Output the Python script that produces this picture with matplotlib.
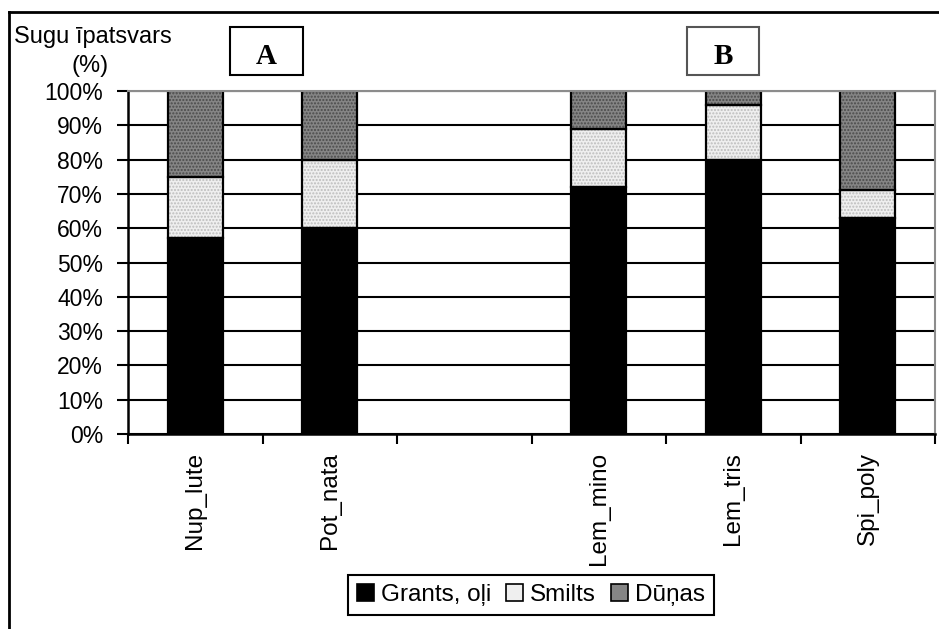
import numpy as np
import matplotlib
matplotlib.use("Agg")
import matplotlib.pyplot as plt
from matplotlib.patches import Rectangle, Patch
from matplotlib.lines import Line2D

# Species (the empty slot separates group A from group B)
categories = ["Nup_lute", "Pot_nata", "", "Lem_mino", "Lem_tris", "Spi_poly"]
# Share of each substrate type, %
grants = [57, 60, 0, 72, 80, 63]
smilts = [18, 20, 0, 17, 16, 8]
dunas = [25, 20, 0, 11, 4, 29]
series_names = ["Grants, oļi", "Smilts", "Dūņas"]
y_ticks = [0, 10, 20, 30, 40, 50, 60, 70, 80, 90, 100]
y_tick_labels = [f"{v}%" for v in y_ticks]
panel_labels = ["A", "B"]
y_label_lines = ["Sugu īpatsvars", "(%)"]

plt.rcParams["font.family"] = ["Liberation Sans", "DejaVu Sans"]

W, H = 939, 629
fig = plt.figure(figsize=(W / 100, H / 100), dpi=100)
fig.patch.set_facecolor("white")


def fx(px):
    return px / W


def fy(py):
    return 1 - py / H


ax = fig.add_axes([fx(128), fy(434), fx(935) - fx(128), fy(91) - fy(434)])

x = np.arange(len(categories))
idx = [i for i, c in enumerate(categories) if c]
xs = x[idx]
g = np.array(grants, float)[idx]
s = np.array(smilts, float)[idx]
d = np.array(dunas, float)[idx]
width = 0.41

fills = [
    # (values, bottoms, face, hatch colour, hatch)
    (g, np.zeros_like(g), "black", "black", None),
    (s, g, "#efefef", "#bdbdbd", "....."),
    (d, g + s, "#858585", "#4a4a4a", "....."),
]
for vals, bottoms, face, hcol, hatch in fills:
    ax.bar(xs, vals, width, bottom=bottoms, color=face, edgecolor=hcol,
           hatch=hatch, linewidth=0, zorder=2)
    ax.bar(xs, vals, width, bottom=bottoms, fill=False, edgecolor="black",
           linewidth=1.6, zorder=3)

ax.set_xlim(-0.5, len(categories) - 0.5)
ax.set_ylim(0, 100)
ax.set_yticks(y_ticks)
ax.set_yticklabels(y_tick_labels)
ax.yaxis.grid(True, color="black", linewidth=1.5)
ax.set_axisbelow(True)

ax.set_xticks(np.arange(-0.5, len(categories), 1))
ax.set_xticklabels([])
ax.set_xticks(x, minor=True)
ax.set_xticklabels(categories, minor=True, rotation=90, va="top")

ax.tick_params(axis="y", length=8, width=1.5, pad=10, labelsize=16.5,
               direction="out")
ax.tick_params(axis="x", which="major", length=7, width=1.5, direction="out")
ax.tick_params(axis="x", which="minor", length=0, pad=13, labelsize=17.5)

for side in ("top", "right"):
    ax.spines[side].set_color("#8c8c8c")
    ax.spines[side].set_linewidth(1.5)
for side in ("left", "bottom"):
    ax.spines[side].set_color("black")
    ax.spines[side].set_linewidth(1.8)
for sp in ax.spines.values():
    sp.set_zorder(4)

# Axis title in two lines above the y tick labels
fig.text(fx(93), fy(43), y_label_lines[0], ha="center", va="baseline",
         fontsize=17)
fig.text(fx(90), fy(72), y_label_lines[1], ha="center", va="baseline",
         fontsize=17)

# Group boxes
for lab, (x0, x1), ec in zip(panel_labels, [(230, 303), (687, 759)],
                              ["black", "#555555"]):
    fig.add_artist(Rectangle((fx(x0), fy(75)), fx(x1) - fx(x0), fy(27) - fy(75),
                             transform=fig.transFigure, fill=False,
                             edgecolor=ec, linewidth=1.5))
    fig.text(fx((x0 + x1) / 2), fy(57), lab, ha="center", va="center",
             fontsize=21, fontweight="bold",
             family=["Liberation Serif", "DejaVu Serif"])

# Outer chart frame
fig.add_artist(Line2D([fx(9), 1.0], [fy(12), fy(12)], color="black",
                      linewidth=2, transform=fig.transFigure))
fig.add_artist(Line2D([fx(9), fx(9)], [fy(12), 0.0], color="black",
                      linewidth=2, transform=fig.transFigure))

handles = [
    Patch(facecolor="black", edgecolor="black", linewidth=1.2),
    Patch(facecolor="#efefef", edgecolor="black", linewidth=1.2),
    Patch(facecolor="#858585", edgecolor="black", linewidth=1.2),
]
leg = fig.legend(handles, series_names, loc="center",
                 bbox_to_anchor=(fx(531), fy(595)), ncol=3, frameon=True,
                 fancybox=False, framealpha=1, edgecolor="black",
                 handlelength=0.7, handleheight=0.7, handletextpad=0.3,
                 columnspacing=0.6, borderpad=0.35,
                 prop={"family": ["Liberation Sans Narrow", "Liberation Sans"],
                       "size": 17.5})
leg.get_frame().set_linewidth(1.5)

fig.savefig("out.png", dpi=100, facecolor="white")
